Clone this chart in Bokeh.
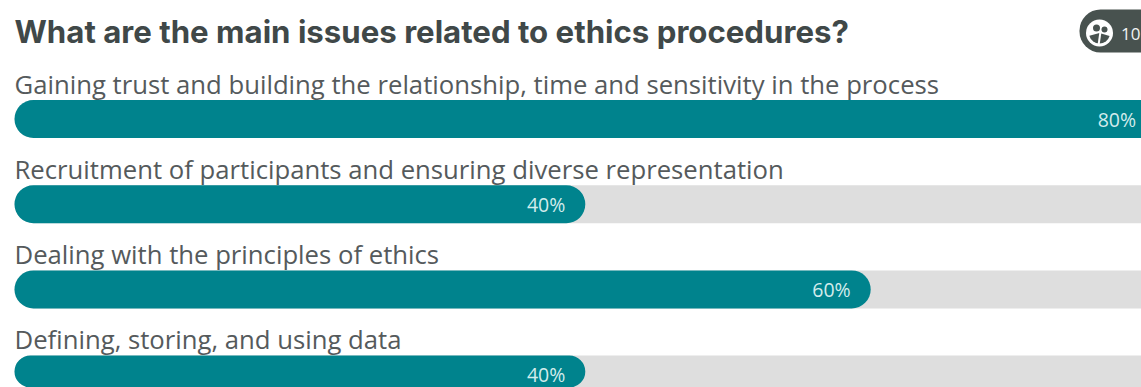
from bokeh.plotting import figure
from bokeh.models import Range1d, ColumnDataSource
from bokeh.core.properties import value
from bokeh.embed import file_html
from bokeh.resources import INLINE

title = "What are the main issues related to ethics procedures?"
categories = [
    "Gaining trust and building the relationship, time and sensitivity in the process",
    "Recruitment of participants and ensuring diverse representation",
    "Dealing with the principles of ethics",
    "Defining, storing, and using data",
]
shares = [80, 40, 60, 40]
respondents = "10"

WIDTH, HEIGHT = 1141, 387
PX_PER_PCT = 14.27
LEFT_PAD = 14
BAR_H = 38
RADIUS = 19
FONT = "Open Sans"


def xpx(px):
    return (px - LEFT_PAD) / PX_PER_PCT


rows = range(len(categories))
centers = [118.5 + 85.2 * i for i in rows]
label_y = [c - 35 for c in centers]

p = figure(width=WIDTH, height=HEIGHT, output_backend="svg", toolbar_location=None,
           x_range=Range1d(xpx(0), xpx(WIDTH)), y_range=Range1d(HEIGHT, 0),
           min_border=0, outline_line_color=None, background_fill_color="white")
p.axis.visible = False
p.grid.visible = False

src = ColumnDataSource(dict(y=centers, share=shares, pct=[f"{s}%" for s in shares],
                            name=categories, ly=label_y, zero=[0] * len(shares),
                            full=[100] * len(shares)))

# grey tracks run past the right edge, so only their left ends are rounded
p.hbar(y="y", left="zero", right="full", height=BAR_H, source=src,
       fill_color="#dedede", line_color=None, border_radius=(RADIUS, 0, 0, RADIUS))

# bars that stop inside the frame get a round right end, the others stay square there
limit = p.x_range.end
for clipped in (False, True):
    keep = [i for i in rows if (shares[i] > limit) == clipped]
    corners = (RADIUS, 0, 0, RADIUS) if clipped else RADIUS
    p.hbar(y=[centers[i] for i in keep], left=0, right=[shares[i] for i in keep], height=BAR_H,
           fill_color="#00838d", line_color=None, border_radius=corners)

p.text(x="zero", y="ly", text="name", source=src, text_font=value(FONT),
       text_font_size="25.7px", text_color="#555a5c", text_baseline="middle", text_align="left")
p.text(x="share", y="y", text="pct", source=src, x_offset=-20, text_font=value(FONT),
       text_font_size="19.5px", text_color="#d3ecec", text_baseline="middle", text_align="right")

p.text(x=[0], y=[31], text=[title], text_font=value("Inter"), text_font_style="bold",
       text_font_size="31.2px", text_color="#404848", text_baseline="middle", text_align="left")

# respondent count badge, running off the right edge
BADGE = "#48524f"
p.hbar(y=[30.5], left=[xpx(1079)], right=[xpx(1141)], height=43, fill_color=BADGE,
       line_color=None, border_radius=(21, 0, 0, 21))

# people icon: white disc, dark shoulders split by a white line, two heads on top
p.scatter(x=[xpx(1099)], y=[32.5], size=27, marker="circle", fill_color="white", line_color=None)
p.wedge(x=[xpx(1099)], y=[32.5], radius=10.5, radius_units="screen",
        start_angle=3.4, end_angle=6.0, fill_color=BADGE, line_color=None)
p.segment(x0=[xpx(1100)], y0=[31], x1=[xpx(1098)], y1=[45], line_color="white", line_width=2)
p.scatter(x=[xpx(1096), xpx(1104)], y=[27.5, 29], size=[9, 8], marker="circle",
          fill_color="white", line_color=None)
p.scatter(x=[xpx(1096), xpx(1104)], y=[27.5, 29], size=[7, 6], marker="circle",
          fill_color=BADGE, line_color=None)

p.text(x=[xpx(1140)], y=[33], text=[respondents], text_font=value(FONT), text_font_size="17px",
       text_color="#f2f4f4", text_baseline="middle", text_align="right")

open("out.html", "w").write(file_html(p, INLINE))
